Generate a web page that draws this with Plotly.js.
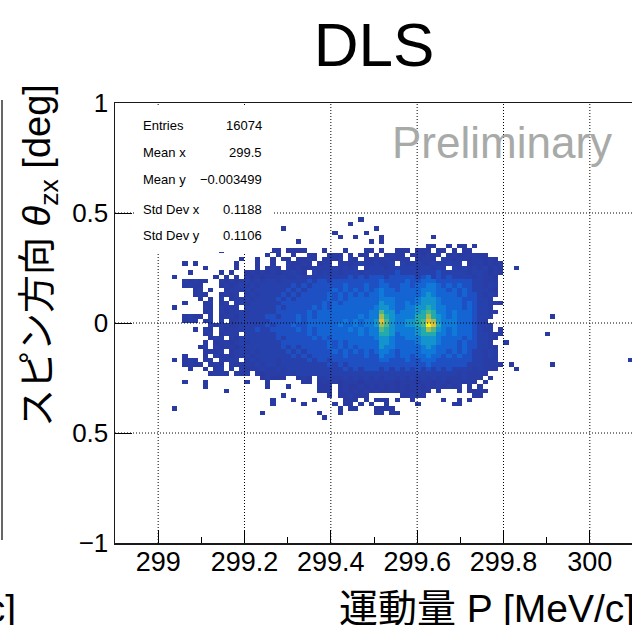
<!DOCTYPE html>
<html>
<head>
<meta charset="utf-8">
<script src="https://cdn.plot.ly/plotly-3.0.1.min.js"></script>
<style>
  html, body { margin: 0; padding: 0; overflow: hidden; background: #fff; }
  #plot { width: 640px; height: 625px; }
</style>
</head>
<body>
<div id="plot"></div>
<script>
// ---- binning of the 2D histogram (P vs theta_zx) ----
const xBinStart = 299.02;   // left edge of first stored column [MeV/c]
const xBinWidth = 0.012;
const yBinTop = 0.5;        // upper edge of first stored row [deg]
const yBinHeight = 0.02;

// bin content levels: one character per bin, '.' = empty
const levelChars  = ".123456789abc";
const levelCounts = [0, 1, 3, 6, 11, 17, 24, 33, 44, 56, 70, 85, 100];

// rows from top (theta = +0.5) to bottom; 9 groups of 10 columns each
const E = "..........";
const histRows = [
  [E,E,E,E,E,E,E,E,E],
  [E,E,E,".......1..",E,E,E,E,E],
  [E,E,E,".....1....",E,E,E,E,E],
  [E,E,"..1.......",E,"1.........",E,E,E,E],
  [E,E,E,"..1.....1.",E,E,E,E,E],
  [E,E,E,"...1..1...",".1........",".1........",E,E,E],
  [E,E,".....1....",".........1",".1........",E,E,E,E],
  [E,E,E,E,E,"11..1.11.1",E,E,E],
  [E,"1.........","11.1111...","1...1...11",".1..111.11","1.11.1.11.",E,E,E],
  [E,".........1",".1..1..11.",".111.1.11.","1.1211.121","212.121122","11........",E,E],
  [E,"....1..1..","1.11.1121.","1212.21.21","2232122.12","21.3212212","2121......",E,E],
  ["...1.1....","...1...1..","1..21121.1","22.2212322","3223.32232","2322322.12","21212.....",E,E],
  [".......1..","...1...1.1","21.2121122","2232323.23","3323333323","3232.32323","23121..1..",E,E],
  ["....1.....","1.1..12121","2122321.32","3232333233","3333433333","3343333323","32121.....",E,E],
  [".1.......1",".1.1.21212","2232232323","3333343434","4434444434","5343433332","3221......",E,E],
  ["...21211..","2121232323","3233333434","4344444444","4544445445","5544444443","3222......",E,E],
  ["...1211...","1212323233","3333434344","4444544454","4554455455","6654545443","3232......",E,E],
  [".....12.1.",".122232333","3334343444","4454545454","5655455556","6655454543","3321......",E,E],
  [".....121..","1212.23233","3343434444","4545454545","5655555556","7655554544","3232......",E,E],
  ["......1.1.","2.12232333","3434344444","4545455555","5666555567","7765555444","332.......",E,E],
  ["...1...12.","12.2323333","3344444444","5454555555","5766556567","7765555454","33221.....",E,E],
  [".1.....21.","2122.33333","3434444454","5455555555","6776556677","8766555454","332.......",E,E],
  [".......12.","2122323333","3444444545","5555555556","6977566678","9866565554","3321......",E,E],
  ["...1211.2.","1221323334","4344454545","5555555656","6a87666688","a876565554","332.......","....1.....",E],
  ["...121.12.","2.12333333","4444454555","5555656566","7b97667789","ba76665554","32........",E,E],
  ["........21","2212333334","3444544555","5556556566","7a97667789","cb86665554","332.......",E,E],
  [".....1.21.","2122333433","4444454545","5555565656","6987666678","a976565554","322.1.....",E,E],
  [".......12.","1222.33333","3444444545","5555555656","6887566678","8866565554","33211.....","...1......",E],
  ["........12","2.21333333","3434444454","5455555555","6776556667","7765555454","3321......",E,E],
  [".......2.1","2212323333","3344444444","4545455555","5776555567","7765554544","332..1....",E,E],
  ["......12.2","1221233333","3343434444","4545454555","5766555556","7655554544","3321......",E,E],
  [".......121","2.12323233","3334343444","4454545454","5665455556","6655454543","3232......",E,E],
  ["...1...1.2","1212232333","3333434344","4444544454","4655455455","6554545443","3232......",E,E],
  [".1.121.21.","2122.23233","3233333434","4344444444","4554445445","5544444443","3222......",E,".........1"],
  ["...1211.12","1.21222323","3233333333","3434344444","4444444444","5444444433","32221.1...","....1.....",E],
  ["....1..1.1","2.1.212232","2323333333","3333434344","4343434343","4343433332","3221...1..",E,E],
  ["........12","21.212.112","2223233333","3333333333","3333333333","3333332322","21........",E,E],
  [E,"........12","111..121.2","2322323232","3233232323","2323222322","2.1.......",E,E],
  ["...1...1..",".....1...1","......11.1","2121222122","2222122212","2122122121",".1........",E,E],
  [".......1..",".........1","...1.....1","11.1211212","1212121221","2121212.1.","1.........",E,E],
  [E,".1........",".........1","11.1212121","2112121121","1.1...1.11","11........",E,E],
  [E,E,"..1.......",".1.112111.",".....11211",".........1","1.........",E,E],
  [E,E,"1...1...1.","....111.1.","111.1..1..","...1..1.1.",E,E,E],
  [E,E,"1.....1...","..1.11.1.1","..1.....1.",".....11...",E,E,E],
  [".1........",E,E,"...1.11...","1111......",E,E,E,E],
  [E,"........1.",".........1","...1......","11.11.....",E,E,E,E],
  [E,E,E,"1.........",E,E,E,E,E],
  [E,E,E,E,E,E,E,E,E]
];

// axis ticks
const xRange = [298.9, 300.1];
const yRange = [-1, 1];
const xTickVals = [299, 299.2, 299.4, 299.6, 299.8, 300];
const xTickText = ["299", "299.2", "299.4", "299.6", "299.8", "300"];
const xMinorVals = [298.9, 299.1, 299.3, 299.5, 299.7, 299.9, 300.1];
const yTickVals = [-1, -0.5, 0, 0.5, 1];
const yTickText = ["\u22121", "0.5", "0", "0.5", "1"];

// statistics box entries
const statLabels = ["Entries", "Mean x", "Mean y", "Std Dev x", "Std Dev y"];
const statValues = ["16074", "299.5", "\u22120.003499", "0.1188", "0.1106"];

// ---- build the z matrix (bottom row first) ----
const nCols = 90;
const zRows = histRows.map(segs => {
  const line = segs.map(s => (s + E).slice(0, 10)).join("").slice(0, nCols);
  return Array.from(line).map(ch => {
    const v = levelCounts[levelChars.indexOf(ch)] || 0;
    return v > 0 ? v : null;
  });
});
const z = zRows.slice().reverse();
const nRows = z.length;
const xCenters = Array.from({length: nCols}, (_, k) => xBinStart + (k + 0.5) * xBinWidth);
const yCenters = Array.from({length: nRows}, (_, r) => (yBinTop - nRows * yBinHeight) + (r + 0.5) * yBinHeight);

const birdScale = [
  [0.00, "rgb(42,58,160)"],
  [0.06, "rgb(38,64,172)"],
  [0.11, "rgb(30,80,195)"],
  [0.17, "rgb(20,100,212)"],
  [0.24, "rgb(15,122,216)"],
  [0.33, "rgb(20,148,205)"],
  [0.44, "rgb(35,170,172)"],
  [0.56, "rgb(80,182,135)"],
  [0.70, "rgb(160,190,85)"],
  [0.85, "rgb(228,190,55)"],
  [1.00, "rgb(250,240,20)"]
];

const latin = "Liberation Sans, Arial, Helvetica, sans-serif";
const mixed = "Liberation Sans, Noto Sans CJK JP, sans-serif";

// frame geometry in pixels (used for placing texts / boxes)
const W = 640, H = 625, mL = 115, mR = 7, mT = 103, mB = 82;
const pw = W - mL - mR, ph = H - mT - mB;
const px2x = p => (p - mL) / pw;
const px2y = p => (H - mB - p) / ph;

const shapes = [];
// dotted grid drawn over the histogram
xTickVals.forEach(v => shapes.push({type: "line", layer: "above", xref: "x", yref: "paper",
  x0: v, x1: v, y0: 0, y1: 1, line: {color: "black", width: 1, dash: "1px,2px"}}));
yTickVals.filter(v => v > yRange[0] && v < yRange[1]).forEach(v => shapes.push({type: "line", layer: "above",
  xref: "paper", yref: "y", x0: 0, x1: 1, y0: v, y1: v, line: {color: "black", width: 1, dash: "1px,2px"}}));
// statistics box background
shapes.push({type: "rect", layer: "above", xref: "paper", yref: "paper",
  x0: px2x(134), x1: px2x(272), y0: px2y(252), y1: px2y(105),
  fillcolor: "white", line: {width: 0}});
// frame edge of the neighbouring pad
shapes.push({type: "line", xref: "paper", yref: "paper",
  x0: px2x(2), x1: px2x(2), y0: px2y(540), y1: px2y(100), line: {color: "#333", width: 1.5}});

const annotations = [];
const statY = [125, 152.7, 179.3, 209, 235.7];
statLabels.forEach((t, i) => {
  annotations.push({text: t, xref: "paper", yref: "paper", x: px2x(141), y: px2y(statY[i]),
    xanchor: "left", yanchor: "middle", showarrow: false, font: {family: latin, size: 13, color: "black"}});
  annotations.push({text: statValues[i], xref: "paper", yref: "paper", x: px2x(264), y: px2y(statY[i]),
    xanchor: "right", yanchor: "middle", showarrow: false, font: {family: latin, size: 13, color: "black"}});
});
annotations.push({text: "Preliminary", xref: "paper", yref: "paper", x: px2x(390), y: px2y(142),
  xanchor: "left", yanchor: "middle", showarrow: false, font: {family: latin, size: 44, color: "rgb(168,170,168)"}});
annotations.push({text: "スピン方向 <i>θ</i><sub>zx</sub> [deg]", xref: "paper", yref: "paper",
  x: px2x(40), y: px2y(256), xanchor: "center", yanchor: "middle", textangle: -90, showarrow: false,
  font: {family: mixed, size: 38, color: "black"}});
annotations.push({text: "運動量 P [MeV/c]", xref: "paper", yref: "paper",
  x: px2x(637), y: px2y(608), xanchor: "right", yanchor: "middle", showarrow: false,
  font: {family: mixed, size: 39, color: "black"}});
annotations.push({text: "[MeV/c]", xref: "paper", yref: "paper",
  x: px2x(18), y: px2y(608), xanchor: "right", yanchor: "middle", showarrow: false,
  font: {family: mixed, size: 39, color: "black"}});

const trace = {
  type: "heatmap",
  x: xCenters, y: yCenters, z: z,
  colorscale: birdScale, zmin: 0, zmax: levelCounts[levelCounts.length - 1],
  showscale: false, hoverongaps: false, zsmooth: false
};

const axisCommon = {
  showgrid: false, zeroline: false, showline: true, mirror: true,
  linecolor: "#1a1a1a", linewidth: 1.5, ticks: "inside", tickcolor: "black", tickwidth: 1,
  layer: "above traces", fixedrange: true
};

const layout = {
  width: W, height: H,
  margin: {l: mL, r: mR, t: mT, b: mB, pad: 0},
  paper_bgcolor: "white", plot_bgcolor: "white",
  title: {text: "DLS", xref: "paper", x: 0.5, xanchor: "center", yref: "container",
    y: 1 - 44 / H, yanchor: "middle", font: {family: latin, size: 62, color: "black"}},
  xaxis: Object.assign({}, axisCommon, {
    range: xRange, tickmode: "array", tickvals: xTickVals, ticktext: xTickText, ticklen: 13,
    tickfont: {family: latin, size: 27, color: "black"}, ticklabelstandoff: -6,
    minor: {tickmode: "array", tickvals: xMinorVals, ticks: "inside", ticklen: 6, tickcolor: "black", tickwidth: 1, showgrid: false}
  }),
  yaxis: Object.assign({}, axisCommon, {
    range: yRange, tickmode: "array", tickvals: yTickVals, ticktext: yTickText, ticklen: 17,
    tickfont: {family: latin, size: 26, color: "black"}
  }),
  shapes: shapes,
  annotations: annotations,
  showlegend: false
};

Plotly.newPlot("plot", [trace], layout, {displayModeBar: false, staticPlot: true});
</script>
</body>
</html>
